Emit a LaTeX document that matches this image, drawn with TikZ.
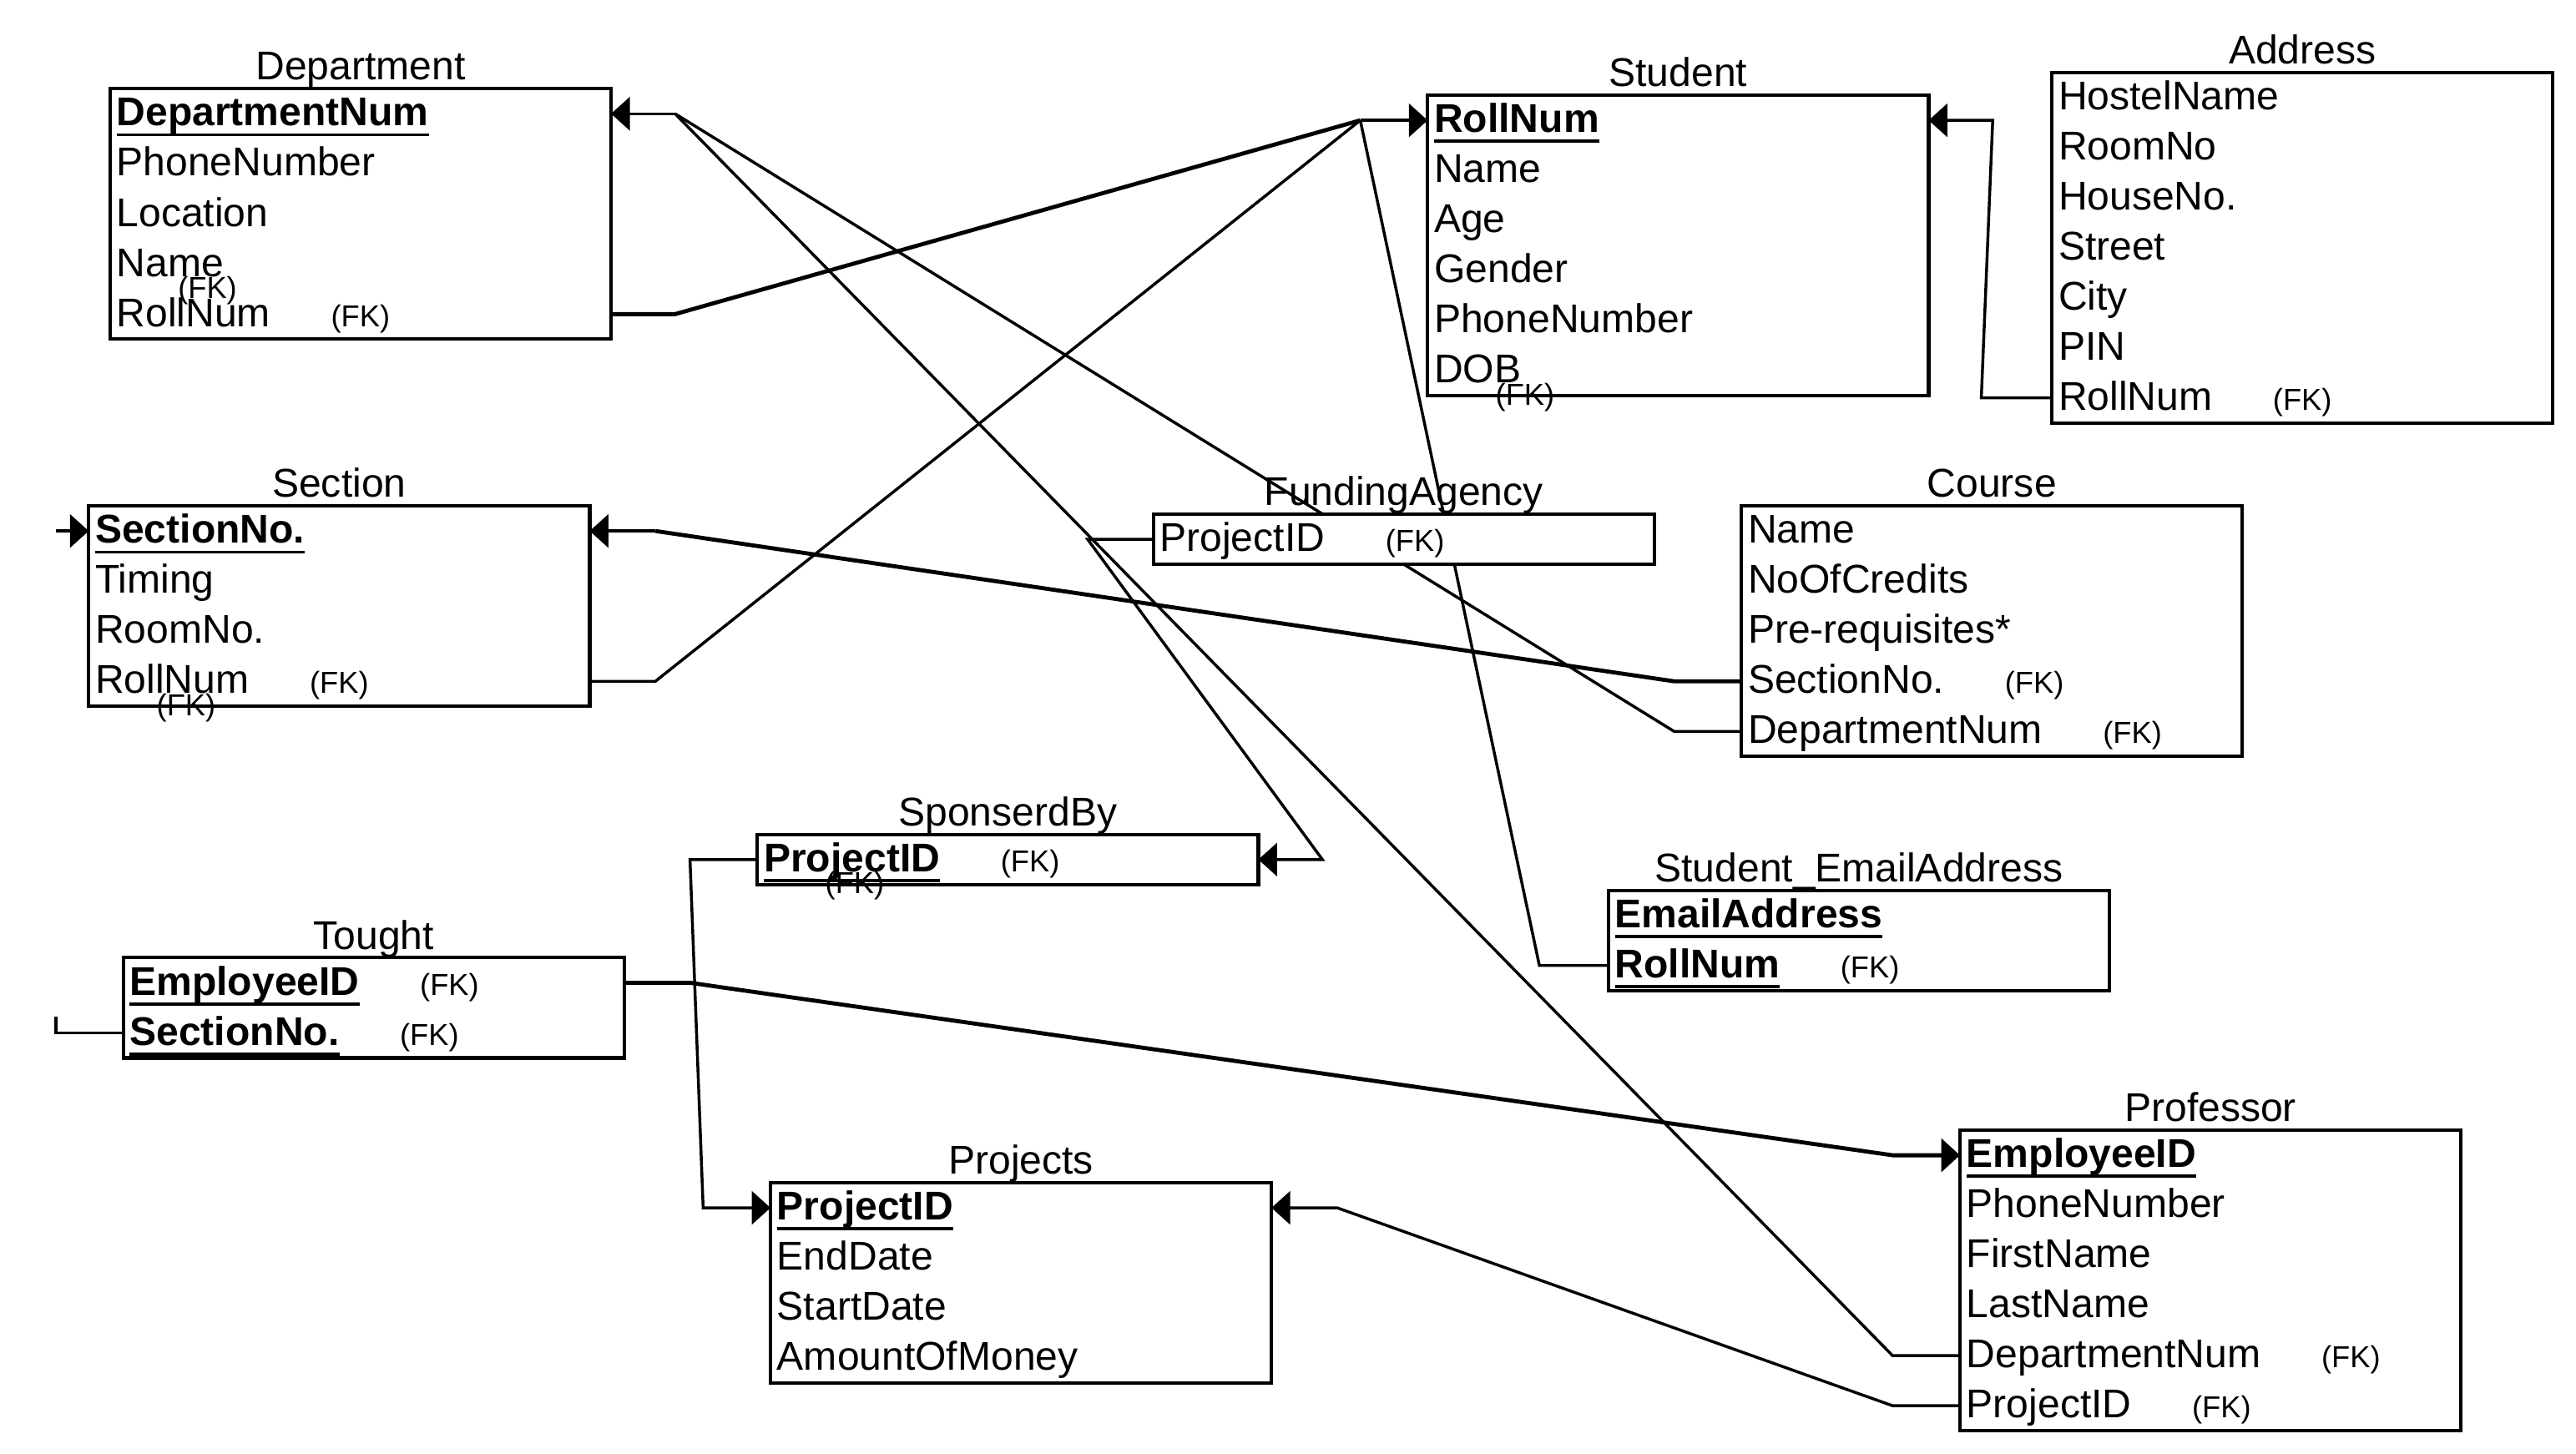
\documentclass[tikz,border=0pt]{standalone}
\usepackage{fontspec}
\setmainfont{Liberation Sans}
\usetikzlibrary{positioning,arrows.meta,backgrounds}

\newcommand{\keyattr}[1]{\setbox0\hbox{\bfseries #1}\rlap{\rule[-3.6pt]{\wd0}{1.1pt}}\box0}
\newcommand{\fkmark}{\hspace{21pt}{\fontsize{10.5}{12}\selectfont (FK)}}

\tikzset{
	entity/.style={rectangle, draw=black, fill=white, line width=1.2pt, minimum width=6.1cm, inner sep=0pt, outer sep=0pt, anchor=north west},
	attr/.style={rectangle, inner xsep=0.08cm, inner ysep=0pt, outer sep=0pt, text width=5.94cm, align=left, minimum height=0.61cm, text height=10.5pt, text depth=2pt, anchor=north west, font=\fontsize{13.9}{16}\selectfont},
	entTitle/.style={inner sep=0pt, anchor=base, font=\fontsize{13.9}{16}\selectfont},
	fkNote/.style={inner sep=0pt, anchor=west, font=\fontsize{10.5}{12}\selectfont},
	link/.style={line width=1pt, black},
	heavyLink/.style={line width=1.4pt, black},
	toKey/.style={-{Triangle[length=6.5pt, width=11.5pt]}}
}

\begin{document}
\begin{tikzpicture}[x=0.02cm, y=-0.02cm]
	\useasboundingbox (0,0) rectangle (1568,885);

	\node[entity, minimum height=3.05cm](deptBox) at (67,54){};
	\node[entTitle](deptTitle) at ([yshift=3pt]deptBox.north){Department};
	\node[attr](dept1) at (deptBox.north west){\keyattr{DepartmentNum}};
	\node[attr, below=0pt of dept1](dept2){PhoneNumber};
	\node[attr, below=0pt of dept2](dept3){Location};
	\node[attr, below=0pt of dept3](dept4){Name};
	\node[attr, below=0pt of dept4](dept5){RollNum\fkmark};
	\node[fkNote](deptFK) at ([shift={(41,16)}]dept4.west){(FK)};

	\node[entity, minimum height=2.44cm](secBox) at (54,308){};
	\node[entTitle](secTitle) at ([yshift=3pt]secBox.north){Section};
	\node[attr](sec1) at (secBox.north west){\keyattr{SectionNo.}};
	\node[attr, below=0pt of sec1](sec2){Timing};
	\node[attr, below=0pt of sec2](sec3){RoomNo.};
	\node[attr, below=0pt of sec3](sec4){RollNum\fkmark};
	\node[fkNote](secFK) at ([shift={(41,16)}]sec4.west){(FK)};

	\node[entity, minimum height=1.22cm](touBox) at (75,583){};
	\node[entTitle](touTitle) at ([yshift=3pt]touBox.north){Tought};
	\node[attr](tou1) at (touBox.north west){\keyattr{EmployeeID}\fkmark};
	\node[attr, below=0pt of tou1](tou2){\keyattr{SectionNo.}\fkmark};

	\node[entity, minimum height=0.61cm](spoBox) at (461,508){};
	\node[entTitle](spoTitle) at ([yshift=3pt]spoBox.north){SponserdBy};
	\node[attr](spo1) at (spoBox.north west){\keyattr{ProjectID}\fkmark};
	\node[fkNote](spoFK) at ([shift={(41,16)}]spo1.west){(FK)};

	\node[entity, minimum height=2.44cm](projBox) at (469,720){};
	\node[entTitle](projTitle) at ([yshift=3pt]projBox.north){Projects};
	\node[attr](proj1) at (projBox.north west){\keyattr{ProjectID}};
	\node[attr, below=0pt of proj1](proj2){EndDate};
	\node[attr, below=0pt of proj2](proj3){StartDate};
	\node[attr, below=0pt of proj3](proj4){AmountOfMoney};

	\node[entity, minimum height=3.66cm](stuBox) at (869,58){};
	\node[entTitle](stuTitle) at ([yshift=3pt]stuBox.north){Student};
	\node[attr](stu1) at (stuBox.north west){\keyattr{RollNum}};
	\node[attr, below=0pt of stu1](stu2){Name};
	\node[attr, below=0pt of stu2](stu3){Age};
	\node[attr, below=0pt of stu3](stu4){Gender};
	\node[attr, below=0pt of stu4](stu5){PhoneNumber};
	\node[attr, below=0pt of stu5](stu6){DOB};
	\node[fkNote](stuFK) at ([shift={(41,16)}]stu6.west){(FK)};

	\node[entity, minimum height=4.27cm](addrBox) at (1249,44){};
	\node[entTitle](addrTitle) at ([yshift=3pt]addrBox.north){Address};
	\node[attr](addr1) at (addrBox.north west){HostelName};
	\node[attr, below=0pt of addr1](addr2){RoomNo};
	\node[attr, below=0pt of addr2](addr3){HouseNo.};
	\node[attr, below=0pt of addr3](addr4){Street};
	\node[attr, below=0pt of addr4](addr5){City};
	\node[attr, below=0pt of addr5](addr6){PIN};
	\node[attr, below=0pt of addr6](addr7){RollNum\fkmark};

	\node[entity, minimum height=0.61cm](fundBox) at (702,313){};
	\node[entTitle](fundTitle) at ([yshift=3pt]fundBox.north){FundingAgency};
	\node[attr](fund1) at (fundBox.north west){ProjectID\fkmark};

	\node[entity, minimum height=3.05cm](courseBox) at (1060,308){};
	\node[entTitle](courseTitle) at ([yshift=3pt]courseBox.north){Course};
	\node[attr](course1) at (courseBox.north west){Name};
	\node[attr, below=0pt of course1](course2){NoOfCredits};
	\node[attr, below=0pt of course2](course3){Pre-requisites*};
	\node[attr, below=0pt of course3](course4){SectionNo.\fkmark};
	\node[attr, below=0pt of course4](course5){DepartmentNum\fkmark};

	\node[entity, minimum height=1.22cm](emailBox) at (979,542){};
	\node[entTitle](emailTitle) at ([yshift=3pt]emailBox.north){Student\_EmailAddress};
	\node[attr](email1) at (emailBox.north west){\keyattr{EmailAddress}};
	\node[attr, below=0pt of email1](email2){\keyattr{RollNum}\fkmark};

	\node[entity, minimum height=3.66cm](profBox) at (1193,688){};
	\node[entTitle](profTitle) at ([yshift=3pt]profBox.north){Professor};
	\node[attr](prof1) at (profBox.north west){\keyattr{EmployeeID}};
	\node[attr, below=0pt of prof1](prof2){PhoneNumber};
	\node[attr, below=0pt of prof2](prof3){FirstName};
	\node[attr, below=0pt of prof3](prof4){LastName};
	\node[attr, below=0pt of prof4](prof5){DepartmentNum\fkmark};
	\node[attr, below=0pt of prof5](prof6){ProjectID\fkmark};


	\begin{scope}[on background layer]
	\fill[white] (0,0) rectangle (1568,885);

	\coordinate (stuJoin) at ([shift={(-41,0)}]stu1.west);
	\coordinate (deptJoin) at ([shift={(39,0)}]dept1.east);
	\coordinate (secJoin) at ([shift={(40,0)}]sec1.east);
	\coordinate (secStub) at ([shift={(-20,0)}]sec1.west);
	\coordinate (touStub) at ([shift={(-41,-10)}]tou2.west);

	\draw[heavyLink](dept5.east) -- ++(39,0) -- (stuJoin);
	\draw[link](sec4.east) -- ++(40,0) -- (stuJoin);
	\draw[link](email2.west) -- ++(-42,0) -- (stuJoin);
	\draw[link, toKey](stuJoin) -- (stu1.west);
	\draw[link, toKey](addr7.west) -- ++(-43,0) -- ([shift={(39,0)}]stu1.east) -- (stu1.east);

	\draw[link](course5.west) -- ++(-41,0) -- (deptJoin);
	\draw[link](prof5.west) -- ++(-41,0) -- (deptJoin);
	\draw[link, toKey](deptJoin) -- (dept1.east);

	\draw[heavyLink](course4.west) -- ++(-41,0) -- (secJoin);
	\draw[link, toKey](secJoin) -- (sec1.east);
	\draw[link, toKey](secStub) -- (sec1.west);
	\draw[link](tou2.west) -- ++(-41,0) -- (touStub);

	\draw[heavyLink, toKey](tou1.east) -- ++(40,0) -- ([shift={(-41,0)}]prof1.west) -- (prof1.west);
	\draw[link, toKey](spo1.west) -- ++(-41,0) -- ([shift={(-41,0)}]proj1.west) -- (proj1.west);
	\draw[link, toKey](fund1.west) -- ++(-40,0) -- ([shift={(39,0)}]spo1.east) -- (spo1.east);
	\draw[link, toKey](prof6.west) -- ++(-41,0) -- ([shift={(40,0)}]proj1.east) -- (proj1.east);
	\end{scope}

\end{tikzpicture}
\end{document}
